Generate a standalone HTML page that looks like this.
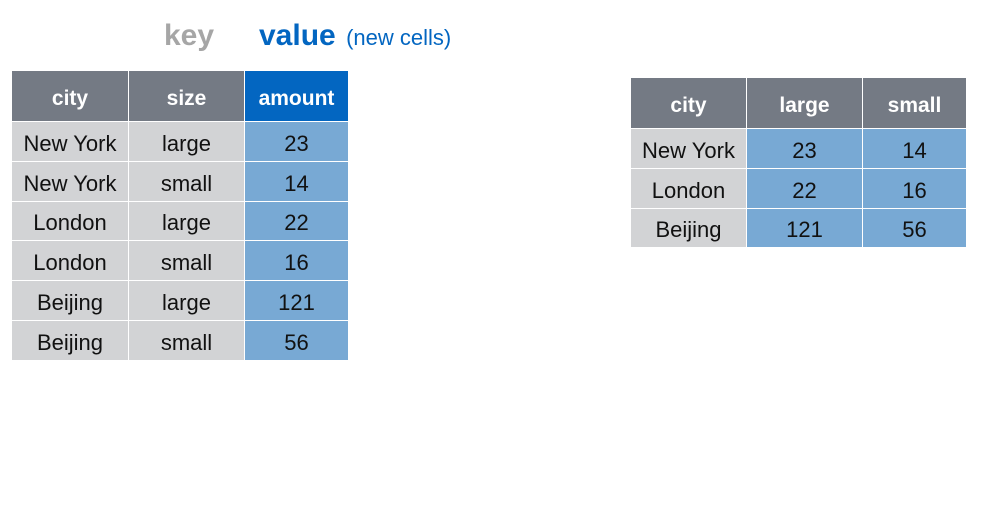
<!DOCTYPE html>
<html><head><meta charset="utf-8"><style>
body{margin:0;width:998px;height:516px;background:#fff;position:relative;overflow:hidden;font-family:"Liberation Sans",Arial,sans-serif}
.c{position:absolute;box-sizing:border-box;display:flex;align-items:center;justify-content:center;font-size:22px;color:#111;border-right:1px solid #fff;border-bottom:1px solid #fff;padding-top:5px}
.h{background:#747a84;color:#fff;font-weight:bold;font-size:21px}
.hb{background:#0366c1;color:#fff;font-weight:bold;font-size:21px}
.g{background:#d2d3d5}
.b{background:#78a9d4}
.t{position:absolute;white-space:nowrap}
</style></head><body>
<div class="t" style="left:164px;top:19px;font-size:30px;font-weight:bold;color:#a6a6a6">key</div>
<div class="t" style="left:259px;top:19px;font-size:30px;font-weight:bold;color:#0366c1">value <span style="font-size:22px;font-weight:normal;margin-left:2px">(new cells)</span></div>
<div id="L"></div>
<div id="R"></div>
<script>
const longCols=["city","size","amount"];
const longRows=[["New York","large","23"],["New York","small","14"],["London","large","22"],["London","small","16"],["Beijing","large","121"],["Beijing","small","56"]];
const wideCols=["city","large","small"];
const wideRows=[["New York","23","14"],["London","22","16"],["Beijing","121","56"]];
function cell(parent,x,y,w,h,cls,txt,name){
  const d=document.createElement('div');
  d.className='c '+cls;
  d.style.cssText=`left:${x}px;top:${y}px;width:${w}px;height:${h}px`;
  d.textContent=txt;
  
  
  parent.appendChild(d);
}
function table(el,x0,y0,widths,cols,rows,blueHeadFrom,blueFrom,prefix){
  let x=x0;
  cols.forEach((c,i)=>{cell(el,x,y0,widths[i],51,i>=blueHeadFrom?'hb':'h',c,prefix+'-header-'+c);x+=widths[i];});
  rows.forEach((r,j)=>{x=x0;r.forEach((v,i)=>{cell(el,x,y0+51+j*39.8,widths[i],39.8,i>=blueFrom?'b':'g',v,prefix+'-cell');x+=widths[i];});});
}
table(document.getElementById('L'),12,71,[117,116,104],longCols,longRows,2,2,'long');
table(document.getElementById('R'),631,78,[116,116,104],wideCols,wideRows,9,1,'wide');
</script>
</body></html>
